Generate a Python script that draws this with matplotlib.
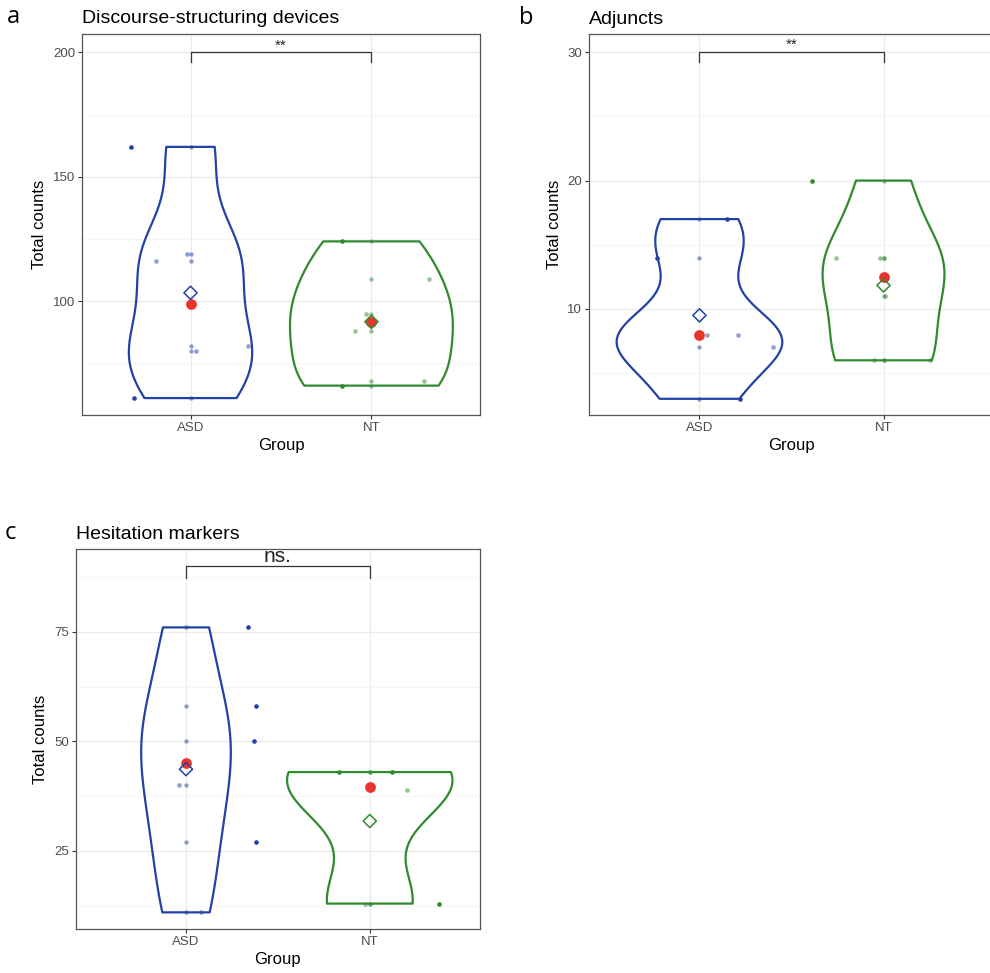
import numpy as np
import matplotlib.pyplot as plt
from matplotlib import cbook, mlab

plt.rcParams['font.family'] = ['Liberation Sans', 'DejaVu Sans']

groups = ['ASD', 'NT']

# a. Discourse-structuring devices
a_asd = [162, 119, 116, 82, 80, 61]
a_nt = [124, 109, 95, 88, 68, 66]
a_asd_jit = [-0.33, -0.02, -0.19, 0.32, 0.03, -0.31]
a_nt_jit = [-0.16, 0.32, -0.03, -0.09, 0.29, -0.16]
a_asd_dark = [1, 0, 0, 0, 0, 1]
a_nt_dark = [1, 0, 0, 0, 0, 1]

# b. Adjuncts
b_asd = [17, 14, 8, 8, 7, 3]
b_nt = [20, 14, 14, 11, 6, 6]
b_asd_jit = [0.15, -0.23, 0.04, 0.21, 0.40, 0.22]
b_nt_jit = [-0.39, -0.26, -0.02, 0.01, -0.05, 0.25]
b_asd_dark = [1, 1, 0, 0, 0, 1]
b_nt_dark = [1, 0, 0, 0, 0, 0]

# c. Hesitation markers
c_asd = [76, 58, 50, 40, 27, 11]
c_nt = [43, 43, 40, 39, 13, 13]
c_asd_jit = [0.335, 0.38, 0.37, -0.04, 0.38, 0.08]
c_nt_jit = [-0.17, 0.12, -0.01, 0.205, -0.025, 0.375]
c_asd_dark = [1, 1, 1, 0, 1, 0]
c_nt_dark = [1, 1, 0, 0, 0, 1]

blue = '#2242A8'
green = '#2F8A30'
red = '#E8352B'


def nrd0(kde):
    # R's default bandwidth (bw.nrd0) as a factor of the sample sd
    x = np.ravel(kde.dataset)
    sd = x.std(ddof=1)
    q75, q25 = np.percentile(x, [75, 25])
    lo = min(sd, (q75 - q25) / 1.34) if q75 > q25 else sd
    return 0.9 * lo / sd * len(x) ** -0.2


def kde_method(X, coords):
    return mlab.GaussianKDE(X, nrd0).evaluate(coords)


def panel(rect, asd, nt, asd_jit, nt_jit, asd_dark, nt_dark, ylim, major,
          minor, br, br_drop, sig, sig_size, title, letter, letter_xy):
    ax = fig.add_axes(rect)
    ax.set_xlim(0.4, 2.6)
    ax.set_ylim(*ylim)
    ax.set_yticks(major)
    ax.set_yticks(minor, minor=True)
    ax.set_xticks([1, 2], groups)
    ax.grid(True, which='major', color='#EBEBEB', lw=0.9, zorder=0)
    ax.grid(True, which='minor', axis='y', color='#F4F4F4', lw=0.6, zorder=0)
    ax.set_axisbelow(True)
    ax.tick_params(which='major', length=3, width=0.8, color='#333333',
                   labelcolor='#4D4D4D', labelsize=9.5, pad=2)
    ax.tick_params(which='minor', length=0)
    for s in ax.spines.values():
        s.set_color('#555555')
        s.set_linewidth(0.9)
    ax.set_xlabel('Group', fontsize=12, labelpad=3)
    ax.set_ylabel('Total counts', fontsize=12, labelpad=4)

    # violins scaled by area, like ggplot's default
    stats = cbook.violin_stats([asd, nt], kde_method)
    peaks = [s['vals'].max() for s in stats]
    widths = [0.9 * p / max(peaks) for p in peaks]
    parts = ax.violin(stats, positions=[1, 2], widths=widths,
                      showextrema=False)
    for body, col in zip(parts['bodies'], [blue, green]):
        body.set_alpha(1)
        body.set_facecolor('none')
        body.set_edgecolor(col)
        body.set_linewidth(1.6)
        body.set_zorder(2)

    for pos, vals, jit, dark, col in [(1, asd, asd_jit, asd_dark, blue),
                                      (2, nt, nt_jit, nt_dark, green)]:
        ax.scatter(np.full(len(vals), pos), vals, s=10, color=col,
                   alpha=0.5, lw=0, zorder=3)
        for dx, y, d in zip(jit, vals, dark):
            ax.scatter(pos + dx, y, s=11, color=col, alpha=1 if d else 0.5,
                       lw=0, zorder=3)
        ax.scatter(pos, np.median(vals), s=60, color=red, lw=0, zorder=4)
        ax.scatter(pos, np.mean(vals), s=45, marker='D', facecolor='none',
                   edgecolor=col, lw=1.1, zorder=5)

    ax.plot([1, 1, 2, 2], [br - br_drop, br, br, br - br_drop],
            color='#333333', lw=0.9, zorder=3)
    ax.text(1.5, br, sig, ha='center', va='bottom', fontsize=sig_size,
            color='#222222')

    fig.text(rect[0], rect[1] + rect[3] + 0.011, title, fontsize=14,
             ha='left', va='baseline')
    fig.text(letter_xy[0], letter_xy[1], letter, fontsize=17,
             family=['Open Sans', 'DejaVu Sans'], ha='left', va='center')
    return ax


fig = plt.figure(figsize=(9.9, 9.73), dpi=100)

panel([0.0828, 0.5735, 0.402, 0.3916], a_asd, a_nt, a_asd_jit, a_nt_jit,
      a_asd_dark, a_nt_dark, (54.2, 207.4), [100, 150, 200], [75, 125, 175],
      200, 4, '**', 11, 'Discourse-structuring devices', 'a', (0.007, 0.983))

panel([0.595, 0.5735, 0.409, 0.3913], b_asd, b_nt, b_asd_jit, b_nt_jit,
      b_asd_dark, b_nt_dark, (1.74, 31.4), [10, 20, 30], [5, 15, 25],
      30, 0.75, '**', 11, 'Adjuncts', 'b', (0.524, 0.981))

panel([0.0765, 0.0452, 0.4084, 0.3902], c_asd, c_nt, c_asd_jit, c_nt_jit,
      c_asd_dark, c_nt_dark, (7.2, 93.8), [25, 50, 75],
      [12.5, 37.5, 62.5, 87.5], 90, 2.7, 'ns.', 15, 'Hesitation markers',
      'c', (0.005, 0.452))

fig.savefig('out.png', dpi=100)
